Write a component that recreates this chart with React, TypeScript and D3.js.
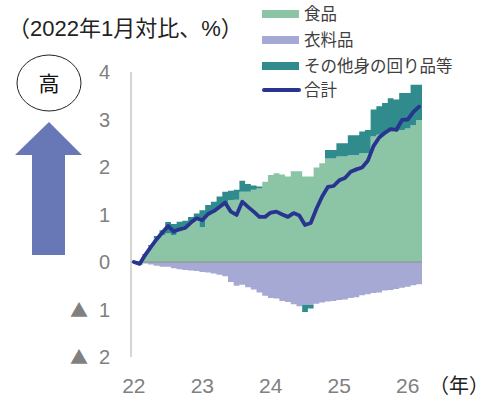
import * as d3 from 'd3';

// monthly, 2022-01 .. 2026-03
const months = d3.range(51).map(i => new Date(2022, i, 1));
const food = [0, 0.02, 0.15, 0.33, 0.5, 0.57, 0.6, 0.57, 0.64, 0.75, 0.83, 0.9, 0.73, 0.98, 1.07, 1.15, 1.25, 1.3, 1.31, 1.48, 1.48, 1.52, 1.55, 1.69, 1.83, 1.87,
  1.84, 1.8, 1.91, 1.91, 1.8, 1.8, 1.99, 2.08, 2.18, 2.18, 2.22, 2.22, 2.25, 2.25, 2.29, 2.29, 2.64, 2.68, 2.71, 2.74, 2.76, 2.78, 2.81, 2.88, 2.99];
const clothing = [0, -0.02, -0.03, -0.05, -0.08, -0.1, -0.1, -0.13, -0.15, -0.17, -0.18, -0.19, -0.21, -0.22, -0.24, -0.27, -0.3, -0.42, -0.5, -0.48, -0.53, -0.58, -0.64, -0.71, -0.76, -0.77,
  -0.82, -0.84, -0.89, -0.93, -0.9, -0.9, -0.88, -0.85, -0.83, -0.82, -0.8, -0.79, -0.76, -0.74, -0.7, -0.68, -0.65, -0.64, -0.6, -0.59, -0.57, -0.54, -0.52, -0.49, -0.47];
const others = [0, -0.04, 0.02, 0.03, 0.05, 0.1, 0.24, 0.23, 0.21, 0.12, 0.12, 0.12, 0.36, 0.22, 0.2, 0.23, 0.23, 0.2, 0.21, 0.23, 0.16, 0.09, 0.04, 0, 0, 0,
  0, 0, 0, 0, -0.15, -0.08, 0, 0, 0.18, 0.18, 0.28, 0.28, 0.42, 0.42, 0.46, 0.49, 0.57, 0.6, 0.64, 0.71, 0.66, 0.78, 0.75, 0.85, 0.74];
const total = [0, -0.04, 0.15, 0.32, 0.48, 0.62, 0.76, 0.64, 0.69, 0.72, 0.83, 0.92, 0.88, 1.01, 1.07, 1.16, 1.25, 1.06, 0.99, 1.27, 1.16, 1.06, 0.95, 0.95, 1.04, 1.06,
  1.0, 0.95, 1.03, 0.98, 0.78, 0.82, 1.12, 1.38, 1.58, 1.6, 1.72, 1.77, 1.9, 1.95, 1.99, 2.13, 2.44, 2.62, 2.72, 2.8, 2.78, 2.99, 3.0, 3.16, 3.27];

const yTicks = [4, 3, 2, 1, 0, -1, -2];
const yearTicks = [2022, 2023, 2024, 2025, 2026];
const legendItems = [
  { label: '食品', color: '#8bc5a6', kind: 'rect' },
  { label: '衣料品', color: '#a6a9d4', kind: 'rect' },
  { label: 'その他身の回り品等', color: '#2f8b8c', kind: 'rect' },
  { label: '合計', color: '#28348f', kind: 'line' },
];

const W = 502, H = 412;
const FONT = '"Liberation Sans", Arial, "Noto Sans CJK JP", sans-serif';
const CJK = '"Noto Sans CJK JP", sans-serif';

export default function App() {
  const x = d3.scaleBand<number>().domain(d3.range(months.length)).range([131, 422]).padding(0);
  const y = d3.scaleLinear().domain([-2, 4]).range([357, 72]);
  const bw = x.bandwidth();
  // step points: one per month plus a closing point at the right edge
  const idx = d3.range(months.length + 1);
  const px = (i: number) => (i < months.length ? (x(i) as number) : (x(months.length - 1) as number) + bw);
  const at = (arr: number[], i: number) => arr[Math.min(i, arr.length - 1)];

  const step = (lo: (i: number) => number, hi: (i: number) => number) =>
    d3.area<number>().curve(d3.curveStepAfter).x(px).y0(i => y(lo(i))).y1(i => y(hi(i)))(idx) as string;

  const foodPath = step(() => 0, i => at(food, i));
  const othPos = step(i => at(food, i), i => at(food, i) + Math.max(0, at(others, i)));
  const clothPath = step(() => 0, i => at(clothing, i));
  const othNeg = step(i => at(clothing, i), i => at(clothing, i) + Math.min(0, at(others, i)));

  const line = d3.line<number>().x((_, i) => (x(i) as number) + bw / 2).y(d => y(d))(total) as string;

  return (
    <svg width={W} height={H} style={{ position: 'absolute', left: 0, top: 0, background: '#fff' }} fontFamily={FONT}>
      <text x={8} y={36} fontSize={22} fill="#222">（2022年1月対比、%）</text>

      {legendItems.map((d, i) => {
        const cy = [14, 40, 66, 90][i];
        return (
          <g key={d.label}>
            {d.kind === 'rect'
              ? <rect x={262} y={cy - 4} width={37} height={8} fill={d.color} />
              : <line x1={264} x2={299} y1={cy} y2={cy} stroke={d.color} strokeWidth={4} strokeLinecap="round" />}
            <text x={304} y={cy + 6} fontSize={16.5} fill="#404040">{d.label}</text>
          </g>
        );
      })}

      <ellipse cx={49} cy={83} rx={32} ry={28} fill="none" stroke="#222" strokeWidth={1} />
      <text x={49} y={91} fontSize={21} textAnchor="middle" fill="#111" fontFamily={CJK}>高</text>
      <path d="M49,122 L82,155 L65,155 L65,255 L32,255 L32,155 L15,155 Z" fill="#6877b6" />

      <path d={foodPath} fill="#8bc5a6" />
      <path d={othPos} fill="#2f8b8c" />
      <path d={clothPath} fill="#a6a9d4" />
      <path d={othNeg} fill="#2f8b8c" />
      <line x1={131} x2={422} y1={y(0)} y2={y(0)} stroke="#929c9a" strokeWidth={1.3} />
      <line x1={131} x2={131} y1={y(4)} y2={y(-2)} stroke="#bfbfbf" strokeWidth={1.3} />
      <path d={line} fill="none" stroke="#28348f" strokeWidth={3.8} strokeLinejoin="round" strokeLinecap="round" />

      {yTicks.map(t => (
        <text key={t} x={110} y={y(t) + 7} fontSize={20} textAnchor="end" fill="#808080">
          {t < 0 ? <><tspan fontFamily={CJK} fontSize={18}>▲</tspan><tspan dx={11}>{-t}</tspan></> : t}
        </text>
      ))}
      {yearTicks.map(yr => {
        const i = (yr - 2022) * 12;
        return (
          <text key={yr} x={(x(i) as number) + bw / 2} y={393} fontSize={21} textAnchor="middle" fill="#808080">
            {String(yr).slice(2)}
          </text>
        );
      })}
      <text x={459} y={393} fontSize={20} textAnchor="middle" fill="#222" fontFamily={CJK}>（年）</text>
    </svg>
  );
}
